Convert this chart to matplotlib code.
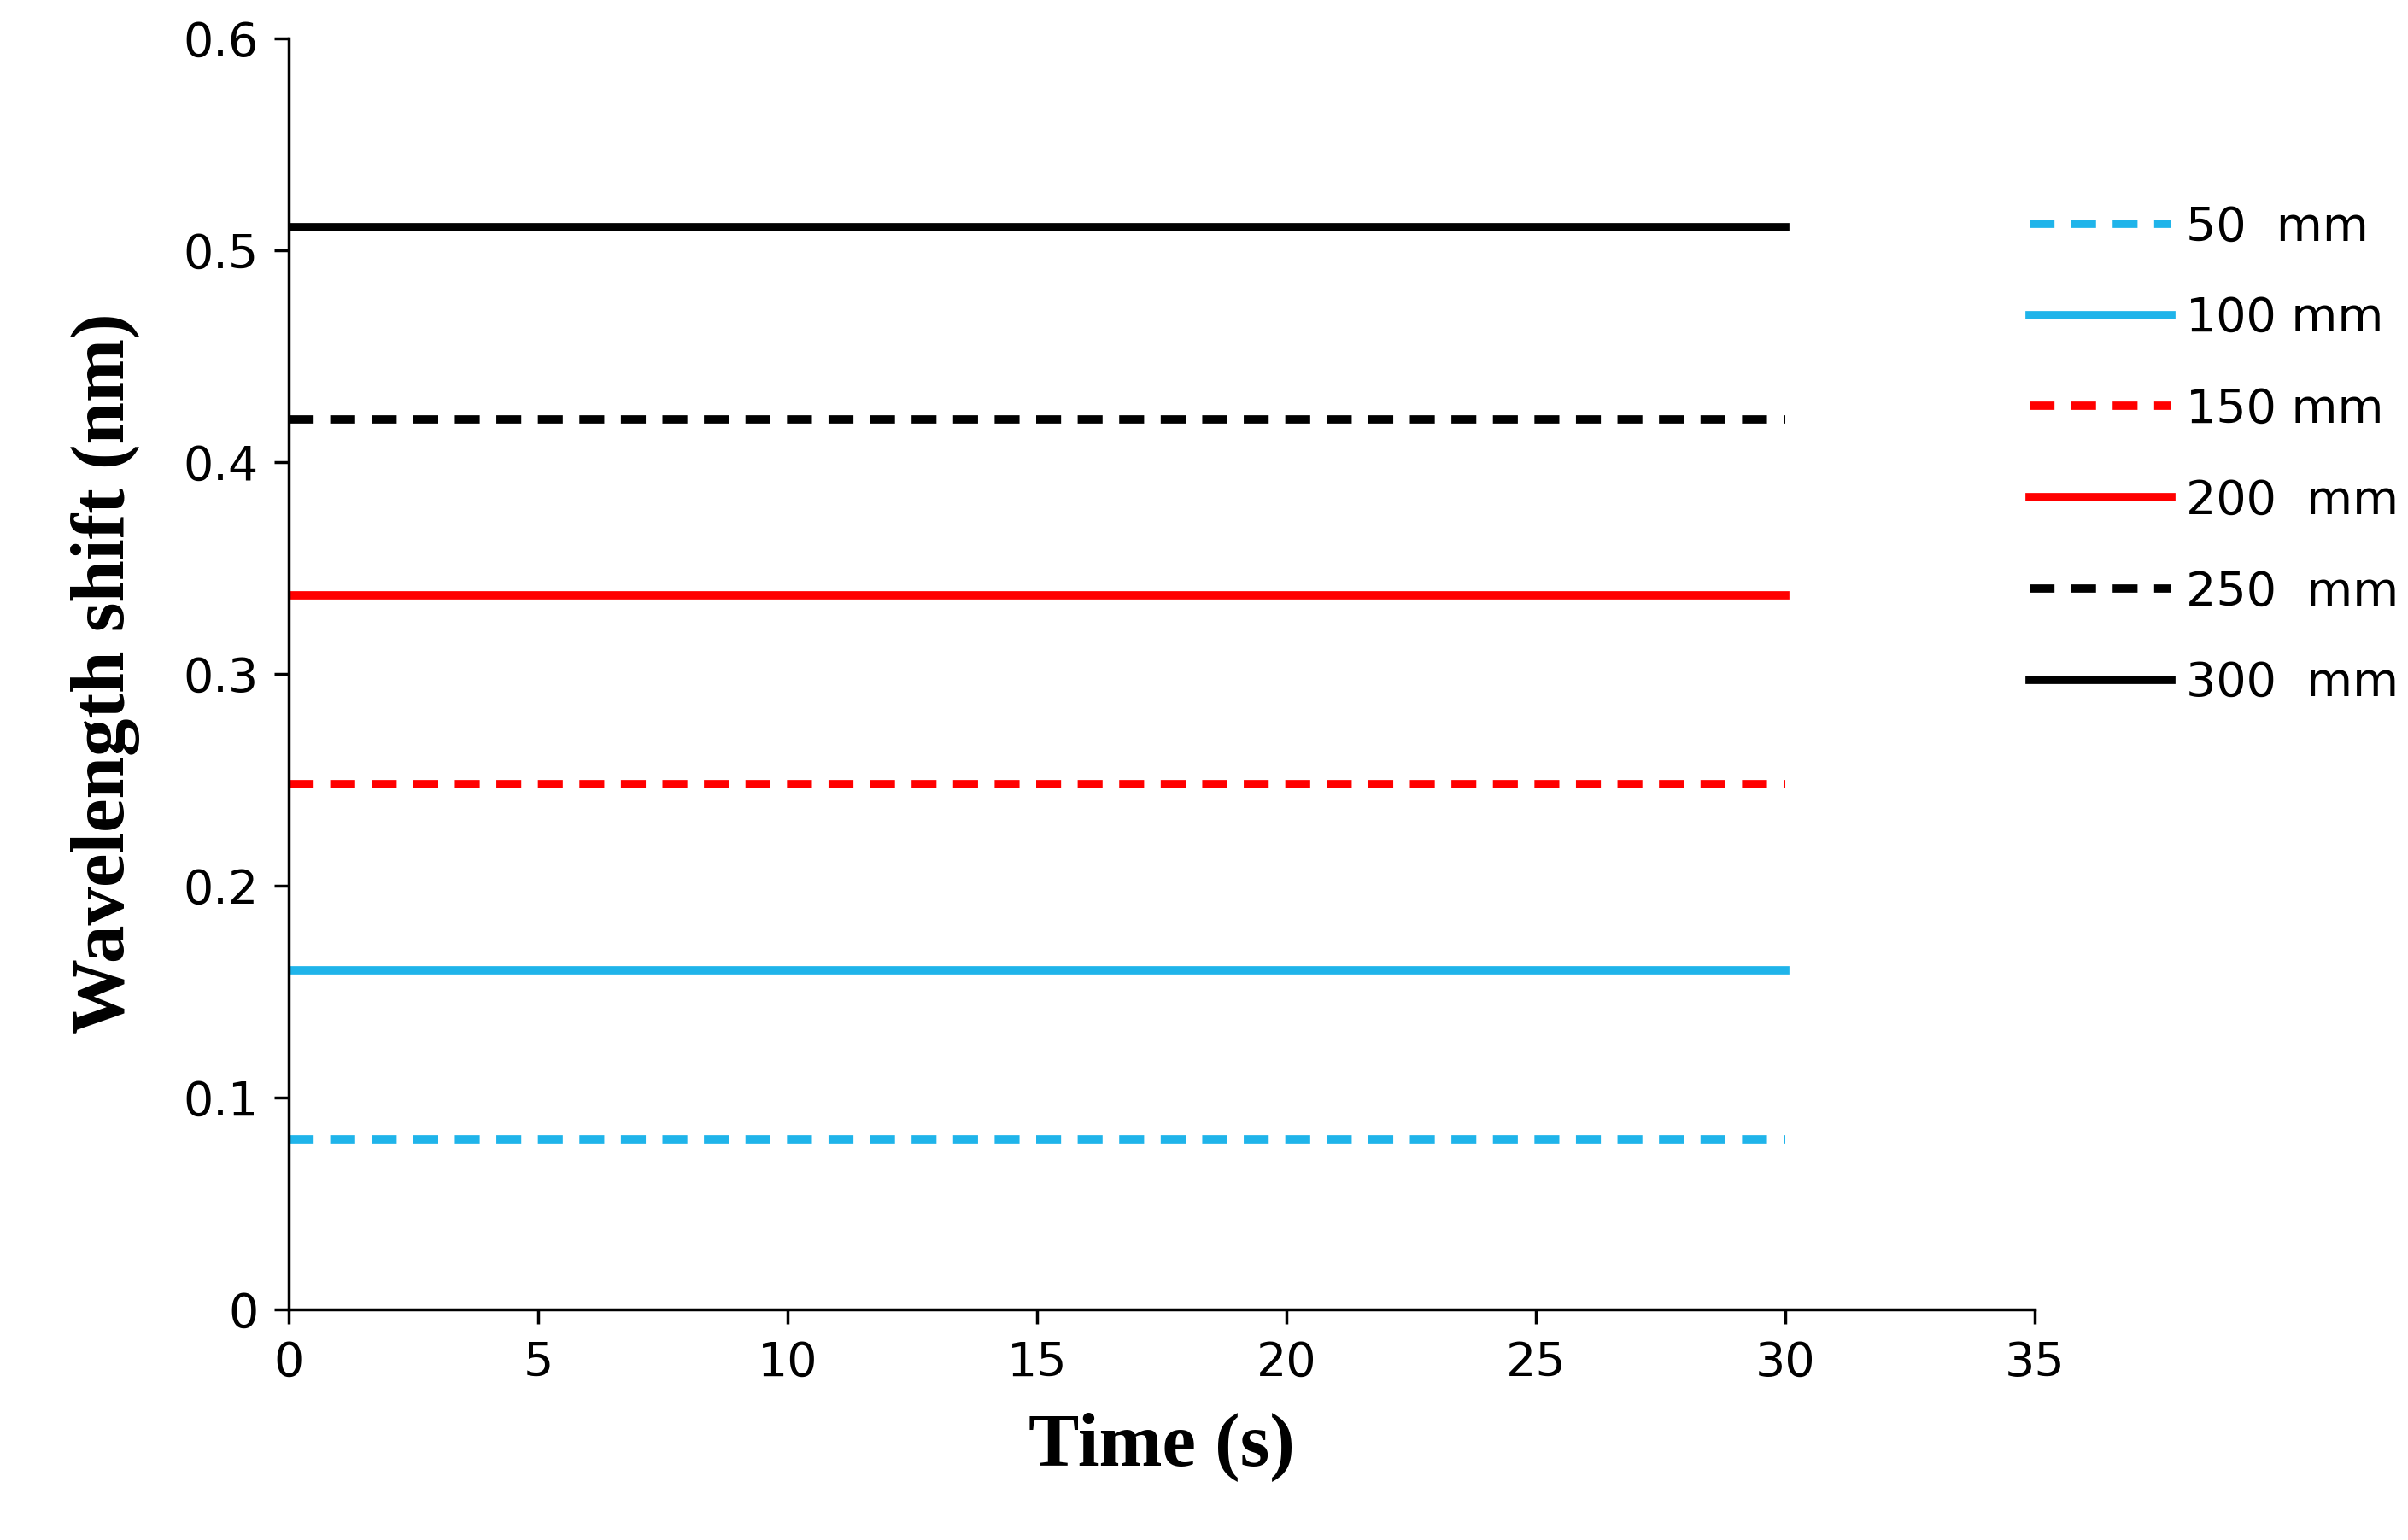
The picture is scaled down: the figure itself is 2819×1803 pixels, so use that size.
import matplotlib.pyplot as plt

# time span of each recording (s)
time = [0, 30]
labels = ['50  mm', '100 mm', '150 mm', '200  mm', '250  mm', '300  mm']
shifts = [0.080, 0.160, 0.248, 0.337, 0.420, 0.511]
colors = ['#1fb4ea', '#1fb4ea', '#ff0000', '#ff0000', '#000000', '#000000']
styles = ['--', '-', '--', '-', '--', '-']

fig = plt.figure(figsize=(28.19, 18.03), dpi=100)
ax = fig.add_axes([0.12, 0.15, 0.725, 0.825])

for lab, s, c, ls in zip(labels, shifts, colors, styles):
    ax.plot(time, [s, s], color=c, linestyle=ls, linewidth=7, label=lab,
            dashes=(3, 2) if ls == '--' else (None, None))

ax.set_xlim(0, 35)
ax.set_ylim(0, 0.6)
ax.set_xticks(range(0, 36, 5))
ax.set_yticks([0, 0.1, 0.2, 0.3, 0.4, 0.5, 0.6])
ax.set_yticklabels(['0', '0.1', '0.2', '0.3', '0.4', '0.5', '0.6'])
for sp in ['top', 'right']:
    ax.spines[sp].set_visible(False)
for sp in ['left', 'bottom']:
    ax.spines[sp].set_linewidth(2.5)
ax.tick_params(labelsize=40, width=2.5, length=12, pad=14)

ax.set_xlabel('Time (s)', fontsize=64, fontweight='bold', family='Liberation Serif', labelpad=22)
ax.set_ylabel('Wavelength shift (nm)', fontsize=64, fontweight='bold', family='Liberation Serif', labelpad=36)

h, l = ax.get_legend_handles_labels()
fig.legend(h, l, loc='upper left', bbox_to_anchor=(0.825, 0.895),
           frameon=False, fontsize=40, handlelength=3.0, labelspacing=0.95,
           handletextpad=0.3)

fig.savefig('out.png')
